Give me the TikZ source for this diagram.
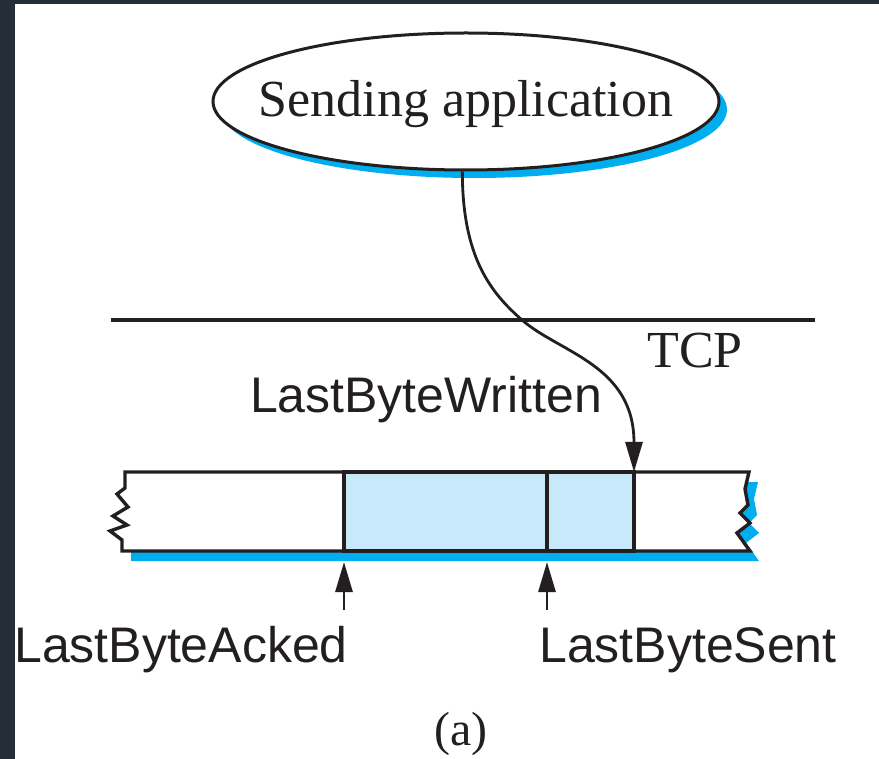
\documentclass[tikz,border=0pt]{standalone}
\usepackage{fontspec}
\setmainfont{Liberation Serif}
\setsansfont{Liberation Sans}
\usetikzlibrary{shapes.geometric, arrows.meta}
\definecolor{inkblack}{HTML}{231F20}
\definecolor{shadowblue}{HTML}{00AEEF}
\definecolor{cellblue}{HTML}{C7E9F9}
\definecolor{framegrey}{HTML}{252E36}

\begin{document}
\begin{tikzpicture}[
    x=1pt, y=-1pt, >={Triangle[length=30pt, width=17pt]},
    appnode/.style={ellipse, draw=inkblack, fill=white, line width=3pt, minimum width=506pt, minimum height=137pt, inner sep=0pt},
    cellnode/.style={rectangle, draw=inkblack, fill=cellblue, line width=3.2pt, minimum height=79pt, inner sep=0pt, outer sep=0pt},
    sanslbl/.style={anchor=base, text=inkblack, inner sep=0pt, font=\sffamily\fontsize{50}{60}\selectfont},
    seriflbl/.style={anchor=base, text=inkblack, inner sep=0pt, font=\fontsize{52}{60}\selectfont},
    wire/.style={draw=inkblack, line width=2.8pt},
  ]
  % frame and page
  \fill[framegrey] (0,0) rectangle (879,759);
  \fill[white] (15,4) rectangle (879,759);
  \useasboundingbox (0,0) rectangle (879,759);

  % application
  \node[appnode, draw=none, fill=shadowblue] (appshadow) at (474,109.5) {};
  \node[appnode] (app) at (466,101.5) {};
  \node[seriflbl] (applbl) at (466,117) {Sending application};

  % TCP boundary
  \draw[wire, line width=3.2pt] (111,320) -- (815,320);
  \node[seriflbl] (tcp) at (695,368) {TCP};

  % send buffer
  \fill[shadowblue] (131,482) -- (758,482) -- (754,499) -- (757,515) -- (749,523)
    -- (759,533) -- (746,543) -- (759,561) -- (131,561) -- cycle;
  \draw[inkblack, fill=white, line width=3.4pt, line join=miter]
    (125,472) -- (749,472) -- (745,489) -- (748,505) -- (740,513) -- (750,523)
    -- (737,533) -- (750,551) -- (122,551) -- (122,540) -- (110,531) -- (127,525)
    -- (113,516) -- (128,507) -- (117,494) -- (125,488) -- cycle;
  \node[cellnode, minimum width=203pt] (acked) at (445.5,511.5) {};
  \node[cellnode, minimum width=87pt]  (sent)  at (590.5,511.5) {};

  % pointers
  \draw[wire, ->] (app.267) .. controls +(0,85) and (490,292) .. (522,320)
    .. controls (560,353) and (634,365) .. (sent.north east);
  \node[sanslbl] (written) at (426,413) {LastByteWritten};

  \node[sanslbl] (ackedlbl) at (181,662) {LastByteAcked};
  \node[sanslbl] (sentlbl)  at (688,662) {LastByteSent};
  \coordinate (ackedtail) at (344,610);
  \coordinate (senttail)  at (547,610);
  \draw[wire, ->] (ackedtail) -- ([yshift=-11pt]acked.south west);
  \draw[wire, ->] (senttail)  -- ([yshift=-11pt]sent.south west);

  \node[seriflbl, font=\fontsize{48}{56}\selectfont] (caption) at (461,745) {(a)};
\end{tikzpicture}
\end{document}
